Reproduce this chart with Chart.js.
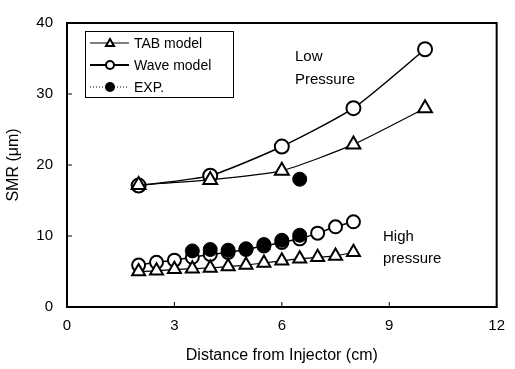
<!DOCTYPE html>
<html>
<head>
<meta charset="utf-8">
<script src="https://cdn.jsdelivr.net/npm/chart.js@4"></script>
<style>
  html, body { margin: 0; padding: 0; background: #fff; }
  #wrap { width: 515px; height: 369px; position: relative; }
</style>
</head>
<body>
<div id="wrap"><canvas id="myChart" width="515" height="369"></canvas></div>
<script>
// Niederdruck (low pressure)
const lowX = [2, 4, 6, 8, 10];
const tabLow = [17.2, 17.9, 19.2, 22.9, 28.0];
const waveLow = [17.1, 18.5, 22.6, 28.0, 36.3];
const expLowX = [6.5];
const expLow = [18.0];

// Hochdruck (high pressure)
const highX = [2, 2.5, 3, 3.5, 4, 4.5, 5, 5.5, 6, 6.5, 7, 7.5, 8];
const tabHigh = [5.0, 5.1, 5.3, 5.4, 5.5, 5.7, 5.9, 6.2, 6.5, 6.8, 7.0, 7.2, 7.7];
const waveHigh = [5.9, 6.3, 6.6, 7.0, 7.4, 7.7, 8.1, 8.6, 9.1, 9.6, 10.4, 11.3, 12.0];
const expHighX = [3.5, 4, 4.5, 5, 5.5, 6, 6.5];
const expHigh = [7.9, 8.1, 8.0, 8.2, 8.8, 9.4, 10.1];

const xTicks = [0, 3, 6, 9, 12];
const yTicks = [0, 10, 20, 30, 40];

function toXY(xs, ys) {
    return xs.map((x, i) => ({ x: x, y: ys[i] }));
}

const FONT = '"Liberation Sans", Arial, sans-serif';

// Rahmen, Innen-Ticks, Legende und Beschriftungen
const extras = {
    id: 'extras',
    afterDraw(chart) {
        const c = chart.ctx;
        const a = chart.chartArea;
        const xs = chart.scales.x, ys = chart.scales.y;
        c.save();
        c.strokeStyle = '#000';
        c.lineWidth = 2;
        c.strokeRect(a.left, a.top, a.right - a.left, a.bottom - a.top);
        c.lineWidth = 1;
        yTicks.forEach(v => {
            const y = ys.getPixelForValue(v);
            c.beginPath(); c.moveTo(a.left, y); c.lineTo(a.left + 5, y); c.stroke();
        });
        xTicks.forEach(v => {
            const x = xs.getPixelForValue(v);
            c.beginPath(); c.moveTo(x, a.bottom); c.lineTo(x, a.bottom - 5); c.stroke();
        });

        // Legende
        c.lineWidth = 1;
        c.strokeRect(85.5, 31.5, 148, 66);
        c.font = '14px ' + FONT;
        c.fillStyle = '#000';
        c.textBaseline = 'middle';
        const rows = [
            { y: 43, text: 'TAB model', kind: 'tri' },
            { y: 65, text: 'Wave model', kind: 'circ' },
            { y: 87, text: 'EXP.', kind: 'dot' }
        ];
        rows.forEach(r => {
            c.beginPath();
            if (r.kind === 'dot') { c.setLineDash([1, 2]); c.lineWidth = 1; }
            else { c.setLineDash([]); c.lineWidth = r.kind === 'circ' ? 2 : 1; }
            c.moveTo(90, r.y); c.lineTo(129, r.y); c.stroke();
            c.setLineDash([]);
            c.lineWidth = 2;
            c.beginPath();
            if (r.kind === 'tri') {
                c.moveTo(110, r.y - 4); c.lineTo(114, r.y + 3); c.lineTo(106, r.y + 3); c.closePath();
                c.fillStyle = '#fff'; c.fill(); c.stroke();
            } else if (r.kind === 'circ') {
                c.arc(110, r.y, 4, 0, Math.PI * 2);
                c.fillStyle = '#fff'; c.fill(); c.stroke();
            } else {
                c.arc(110, r.y, 5, 0, Math.PI * 2);
                c.fillStyle = '#000'; c.fill();
            }
            c.fillStyle = '#000';
            c.fillText(r.text, 134, r.y + 1);
        });

        // Druckbeschriftungen
        c.font = '15px ' + FONT;
        c.fillText('Low', 295, 57);
        c.fillText('Pressure', 295, 80);
        c.fillText('High', 383, 237);
        c.fillText('pressure', 383, 259);
        c.restore();
    }
};

const common = { showLine: true, fill: false, borderColor: '#000', pointBorderColor: '#000',
    pointBackgroundColor: '#fff', pointBorderWidth: 2, tension: 0.2 };

const ctx = document.getElementById('myChart').getContext('2d');
const myChart = new Chart(ctx, {
    type: 'scatter',
    data: {
        datasets: [
            // Reihenfolge: erster Datensatz liegt oben
            Object.assign({}, common, { label: 'TAB high', data: toXY(highX, tabHigh), borderWidth: 1.2,
                pointStyle: 'triangle', pointRadius: 7.5 }),
            { label: 'EXP.', data: toXY(expHighX, expHigh), showLine: false, pointRadius: 7,
                pointBackgroundColor: '#000', pointBorderColor: '#000' },
            { label: 'EXP. low', data: toXY(expLowX, expLow), showLine: false, pointRadius: 7,
                pointBackgroundColor: '#000', pointBorderColor: '#000' },
            Object.assign({}, common, { label: 'Wave high', data: toXY(highX, waveHigh), borderWidth: 1.5,
                pointStyle: 'circle', pointRadius: 6.5 }),
            Object.assign({}, common, { label: 'TAB model', data: toXY(lowX, tabLow), borderWidth: 1.2,
                pointStyle: 'triangle', pointRadius: 8 }),
            Object.assign({}, common, { label: 'Wave model', data: toXY(lowX, waveLow), borderWidth: 1.5,
                pointStyle: 'circle', pointRadius: 7 })
        ]
    },
    plugins: [extras],
    options: {
        responsive: false,
        animation: false,
        layout: { padding: { left: 0, right: 11, top: 14, bottom: 0 } },
        scales: {
            x: {
                type: 'linear', min: 0, max: 12,
                afterBuildTicks: s => { s.ticks = xTicks.map(v => ({ value: v })); },
                afterFit: s => { s.height = 62; },
                grid: { display: false, drawTicks: false },
                border: { display: false },
                ticks: { color: '#000', font: { family: FONT, size: 15 }, padding: 10 },
                title: { display: true, text: 'Distance from Injector (cm)', color: '#000',
                    font: { family: FONT, size: 16 }, padding: { top: 3 } }
            },
            y: {
                min: 0, max: 40,
                afterBuildTicks: s => { s.ticks = yTicks.map(v => ({ value: v })); },
                afterFit: s => { s.width = 67; },
                grid: { display: false, drawTicks: false },
                border: { display: false },
                ticks: { color: '#000', font: { family: FONT, size: 15 }, padding: 14 },
                title: { display: true, text: 'SMR (μm)', color: '#000',
                    font: { family: FONT, size: 16 }, padding: { bottom: 0 } }
            }
        },
        plugins: {
            legend: { display: false },
            tooltip: { enabled: false }
        }
    }
});
</script>
</body>
</html>
